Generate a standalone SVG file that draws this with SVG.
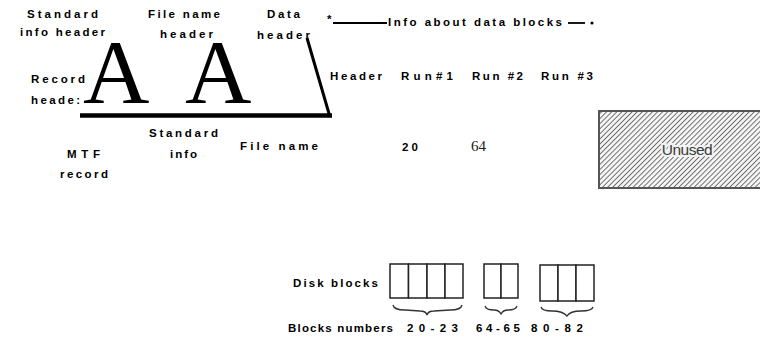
<svg xmlns="http://www.w3.org/2000/svg" width="760" height="342" viewBox="0 0 760 342">
<style>
.t{font-family:"Liberation Sans",Arial,sans-serif;font-weight:bold;font-size:11.5px;fill:#000}
.big{font-family:"Liberation Serif","Times New Roman",serif;font-size:92px;fill:#000}
.cell{fill:#fff;stroke:#222;stroke-width:1.5}
.brace{fill:none;stroke:#333;stroke-width:1.3}
</style>
<defs>
<pattern id="hatch" width="3.6" height="3.6" patternUnits="userSpaceOnUse" patternTransform="rotate(45)">
<rect width="3.6" height="3.6" fill="#f4f4f4"/>
<line x1="0" y1="0" x2="0" y2="3.6" stroke="#4a4a4a" stroke-width="1.5"/>
</pattern>
</defs>
<g id="connectors">
<line x1="80" y1="115.5" x2="332" y2="115.5" stroke="#000" stroke-width="4.5"/>
<line x1="307" y1="38" x2="330" y2="117" stroke="#000" stroke-width="3"/>
<line x1="333" y1="23" x2="387" y2="23" stroke="#000" stroke-width="1.8"/>
<line x1="568" y1="23" x2="585" y2="23" stroke="#000" stroke-width="1.8"/>
<circle cx="592" cy="23" r="1.6" fill="#000"/>
</g>
<g id="big-letters">
<text class="big" x="83" y="103">A</text>
<text class="big" x="185" y="103">A</text>
</g>
<g id="labels-top">
<text class="t" x="27" y="18" textLength="71" lengthAdjust="spacing">Standard</text>
<text class="t" x="20" y="36" textLength="85" lengthAdjust="spacing">info header</text>
<text class="t" x="148" y="18" textLength="72" lengthAdjust="spacing">File name</text>
<text class="t" x="160" y="38" textLength="53" lengthAdjust="spacing">header</text>
<text class="t" x="267" y="18" textLength="33" lengthAdjust="spacing">Data</text>
<text class="t" x="257" y="39" textLength="53" lengthAdjust="spacing">header</text>
<text class="t" x="31" y="83" textLength="54" lengthAdjust="spacing">Record</text>
<text class="t" x="31" y="104" textLength="49" lengthAdjust="spacing">heade:</text>
<text class="t" x="327" y="23">*</text>
<text class="t" x="388" y="26" textLength="174" lengthAdjust="spacing">Info about data blocks</text>
</g>
<g id="row-header">
<text class="t" x="330" y="80" textLength="52" lengthAdjust="spacing">Header</text>
<text class="t" x="401" y="80" textLength="52" lengthAdjust="spacing">Run#1</text>
<text class="t" x="472" y="80" textLength="51" lengthAdjust="spacing">Run #2</text>
<text class="t" x="541" y="80" textLength="52" lengthAdjust="spacing">Run #3</text>
</g>
<g id="row-record">
<text class="t" x="67" y="158" textLength="33" lengthAdjust="spacing">MTF</text>
<text class="t" x="60" y="178" textLength="48" lengthAdjust="spacing">record</text>
<text class="t" x="149" y="137" textLength="69" lengthAdjust="spacing">Standard</text>
<text class="t" x="170" y="158" textLength="27" lengthAdjust="spacing">info</text>
<text class="t" x="240" y="150" textLength="78" lengthAdjust="spacing">File name</text>
<text class="t" x="402" y="151" textLength="16" lengthAdjust="spacing">20</text>
<text x="471" y="151" style="font-family:'Liberation Serif',serif;font-size:15px;fill:#222">64</text>
</g>
<g id="unused">
<rect x="599" y="111" width="170" height="77" fill="url(#hatch)" stroke="#555" stroke-width="2"/>
<text x="687" y="155" text-anchor="middle" style="font-family:'Liberation Sans',Arial,sans-serif;font-size:15.5px;fill:#3a3a3a;stroke:#f2f2f2;stroke-width:4;paint-order:stroke;letter-spacing:-0.5px">Unused</text>
</g>
<g id="disk-blocks">
<text class="t" x="293" y="287" textLength="85" lengthAdjust="spacing">Disk blocks</text>
<g id="run1">
<rect class="cell" x="390" y="264" width="18.5" height="34"/>
<rect class="cell" x="408.5" y="264" width="18.5" height="34"/>
<rect class="cell" x="427" y="264" width="18" height="34"/>
<rect class="cell" x="445" y="264" width="18" height="34"/>
<path class="brace" d="M393 305 Q394 310 405 310 L420 311 Q426 311 427 315 Q428 311 434 311 L450 310 Q461 310 462 305"/>
</g>
<g id="run2">
<rect class="cell" x="484" y="264" width="17" height="34"/>
<rect class="cell" x="501" y="264" width="17" height="34"/>
<path class="brace" d="M485 306 Q486 310 494 310 Q499 310 501 314 Q503 310 508 310 Q516 310 517 306"/>
</g>
<g id="run3">
<rect class="cell" x="540" y="265" width="18" height="36"/>
<rect class="cell" x="558" y="265" width="18" height="36"/>
<rect class="cell" x="576" y="265" width="18" height="36"/>
<path class="brace" d="M541 307 Q542 311 552 311 Q563 311 567 316 Q570 311 581 311 Q592 311 593 307"/>
</g>
<text class="t" x="288" y="332" textLength="105" lengthAdjust="spacing">Blocks numbers</text>
<text class="t" x="407" y="332" textLength="51" lengthAdjust="spacing">20-23</text>
<text class="t" x="476" y="332" textLength="44" lengthAdjust="spacing">64-65</text>
<text class="t" x="531" y="332" textLength="52" lengthAdjust="spacing">80-82</text>
</g>
</svg>
